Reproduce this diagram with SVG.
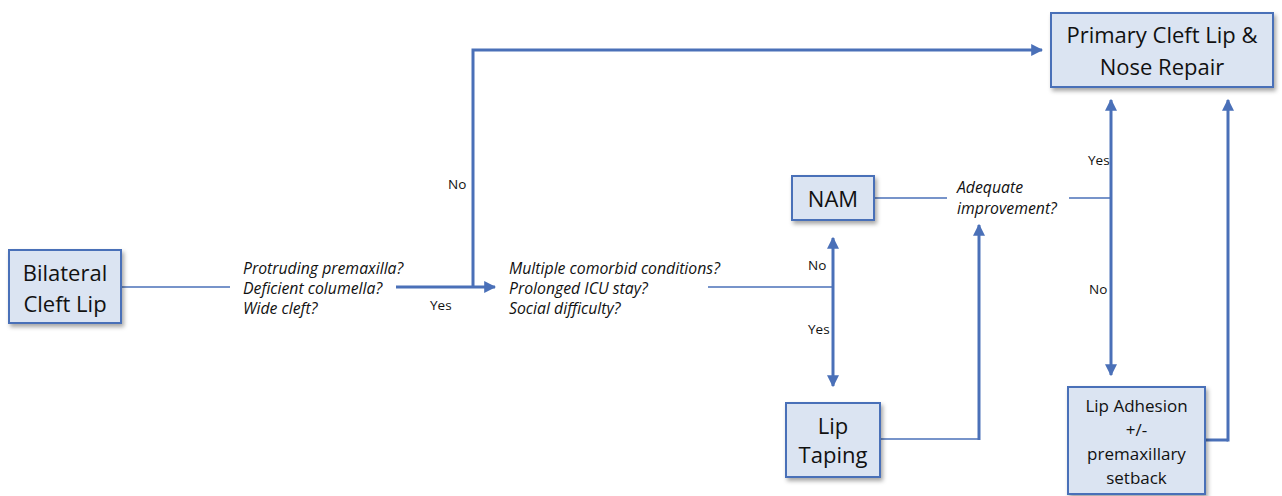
<svg xmlns="http://www.w3.org/2000/svg" width="1282" height="496" viewBox="0 0 1282 496">
<style>
.box{fill:#dbe4f2;stroke:#4a70b8;stroke-width:2;filter:url(#sh)}
.bt{font-family:"Open Sans","Liberation Sans",sans-serif;fill:#111;text-anchor:middle}
.q{font-family:"Open Sans","Liberation Sans",sans-serif;font-style:italic;font-size:15.8px;fill:#111}
.lbl{font-family:"Open Sans","Liberation Sans",sans-serif;font-size:13.5px;fill:#111}
.thin{fill:none;stroke:#4a70b8;stroke-width:1.6}
.thick{fill:none;stroke:#4a70b8;stroke-width:3}
</style>
<defs>
<filter id="sh" x="-20%" y="-20%" width="140%" height="150%">
<feDropShadow dx="2" dy="3" stdDeviation="2" flood-color="#000" flood-opacity="0.35"/>
</filter>
<marker id="ah" viewBox="0 0 10 10" refX="9" refY="5" markerWidth="4" markerHeight="4" markerUnits="strokeWidth" orient="auto">
<path d="M0,0 L10,5 L0,10 z" fill="#4a70b8"/>
</marker>
</defs>
<rect width="1282" height="496" fill="#fff"/>
<g id="connectors">
<path class="thin" d="M121,287 H230"/>
<path class="thick" d="M396,287 H495" marker-end="url(#ah)"/>
<path class="thick" d="M473,287 V50 H1042" marker-end="url(#ah)"/>
<path class="thin" d="M708,287 H833"/>
<path class="thick" d="M833,287 V238" marker-end="url(#ah)"/>
<path class="thick" d="M833,287 V386" marker-end="url(#ah)"/>
<path class="thin" d="M874,198 H947"/>
<path class="thin" d="M881,439 H979"/>
<path class="thick" d="M979,440 V225" marker-end="url(#ah)"/>
<path class="thin" d="M1069,198 H1111"/>
<path class="thick" d="M1111,198 V100" marker-end="url(#ah)"/>
<path class="thick" d="M1111,198 V375" marker-end="url(#ah)"/>
<path class="thick" d="M1205,440 H1228"/>
<path class="thick" d="M1228,441.5 V100" marker-end="url(#ah)"/>
</g>
<g id="labels">
<text class="q" x="243" y="274">Protruding premaxilla?</text>
<text class="q" x="243" y="294">Deficient columella?</text>
<text class="q" x="243" y="314">Wide cleft?</text>
<text class="lbl" x="448" y="189">No</text>
<text class="lbl" x="430" y="310">Yes</text>
<text class="q" x="509" y="274">Multiple comorbid conditions?</text>
<text class="q" x="509" y="294">Prolonged ICU stay?</text>
<text class="q" x="509" y="314">Social difficulty?</text>
<text class="lbl" x="808" y="270">No</text>
<text class="lbl" x="808" y="334">Yes</text>
<text class="q" x="957" y="193">Adequate</text>
<text class="q" x="957" y="214">improvement?</text>
<text class="lbl" x="1088" y="165">Yes</text>
<text class="lbl" x="1089" y="294">No</text>
</g>
<g id="bilateral">
<rect class="box" x="9" y="250" width="112" height="73"/>
<text class="bt" font-size="22" x="65" y="281">Bilateral</text>
<text class="bt" font-size="22" x="65" y="312">Cleft Lip</text>
</g>
<g id="primary">
<rect class="box" x="1051" y="13" width="222" height="74"/>
<text class="bt" font-size="22" x="1162" y="43">Primary Cleft Lip &amp;</text>
<text class="bt" font-size="22" x="1162" y="75">Nose Repair</text>
</g>
<g id="nam">
<rect class="box" x="792" y="176" width="82" height="44"/>
<text class="bt" font-size="22" x="833" y="207">NAM</text>
</g>
<g id="liptaping">
<rect class="box" x="786" y="403" width="94" height="74"/>
<text class="bt" font-size="22" x="833" y="434">Lip</text>
<text class="bt" font-size="22" x="833" y="463">Taping</text>
</g>
<g id="lipadhesion">
<rect class="box" x="1068" y="387" width="137" height="107"/>
<text class="bt" font-size="17" x="1136.5" y="412">Lip Adhesion</text>
<text class="bt" font-size="17" x="1136.5" y="436">+/-</text>
<text class="bt" font-size="17" x="1136.5" y="460">premaxillary</text>
<text class="bt" font-size="17" x="1136.5" y="484">setback</text>
</g>
</svg>
